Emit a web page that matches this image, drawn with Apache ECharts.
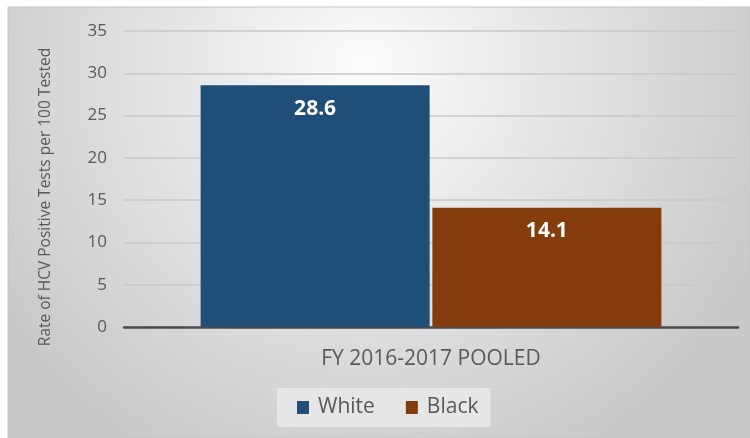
<!DOCTYPE html>
<html>
<head>
<meta charset="utf-8">
<script src="https://cdn.jsdelivr.net/npm/echarts@6/dist/echarts.min.js"></script>
<style>html,body{margin:0;padding:0;background:#fff;}#c{width:750px;height:438px;}</style>
</head>
<body>
<div id="c"></div>
<script>
var categories = ['FY 2016-2017 POOLED'];
var seriesNames = ['White', 'Black'];
var whiteValues = [28.6];
var blackValues = [14.1];
var yTicks = { min: 0, max: 35, interval: 5 };
var yAxisTitle = 'Rate of HCV Positive Tests per 100 Tested';

var FONT = '"Open Sans", sans-serif';
var TXT = '#595959';
var chart = echarts.init(document.getElementById('c'), null, { renderer: 'canvas' });

function barSeries(name, values, color) {
  return {
    name: name,
    type: 'bar',
    data: values,
    barWidth: 229,
    barGap: '1.2%',
    itemStyle: { color: color },
    label: {
      show: true,
      position: 'insideTop',
      distance: 13,
      color: '#ffffff',
      fontFamily: FONT,
      fontWeight: 'bold',
      fontSize: 21,
      formatter: function (p) { return p.value.toFixed(1); }
    }
  };
}

chart.setOption({
  backgroundColor: '#ffffff',
  animation: false,
  graphic: [
    {
      type: 'rect',
      z: -10,
      silent: true,
      shape: { x: 8, y: 7, width: 742, height: 431 },
      style: {
        fill: new echarts.graphic.RadialGradient(0.48, 0.15, 1.0, [
          { offset: 0, color: '#fcfcfc' },
          { offset: 1, color: '#c9c9c9' }
        ]),
        stroke: '#c4c4c4',
        lineWidth: 1
      }
    },
    {
      type: 'text',
      x: 46,
      y: 197,
      rotation: Math.PI / 2,
      silent: true,
      style: {
        text: yAxisTitle,
        fill: TXT,
        font: '15.5px ' + FONT,
        textAlign: 'center',
        textVerticalAlign: 'middle'
      }
    }
  ],
  grid: { left: 124, right: 12, top: 31, bottom: 111 },
  legend: {
    data: seriesNames,
    left: 277,
    top: 388,
    padding: [9, 12, 9, 20],
    backgroundColor: '#e6e6e6',
    itemWidth: 12,
    itemHeight: 13,
    itemGap: 31,
    icon: 'rect',
    textStyle: { color: TXT, fontFamily: FONT, fontSize: 21, padding: [0, 0, 0, 4] }
  },
  xAxis: {
    type: 'category',
    data: categories,
    axisLine: { show: true, lineStyle: { color: '#4a4a4a', width: 2.5 } },
    axisTick: { show: false },
    axisLabel: { color: TXT, fontFamily: FONT, fontSize: 21, margin: 22 }
  },
  yAxis: {
    type: 'value',
    min: yTicks.min,
    max: yTicks.max,
    interval: yTicks.interval,
    axisLine: { show: false },
    axisTick: { show: false },
    splitLine: { lineStyle: { color: '#c8c8c8', width: 1.5 } },
    axisLabel: { color: TXT, fontFamily: FONT, fontSize: 17, margin: 17 }
  },
  series: [
    barSeries(seriesNames[0], whiteValues, '#1f4e79'),
    barSeries(seriesNames[1], blackValues, '#843c0c')
  ]
});
</script>
</body>
</html>
